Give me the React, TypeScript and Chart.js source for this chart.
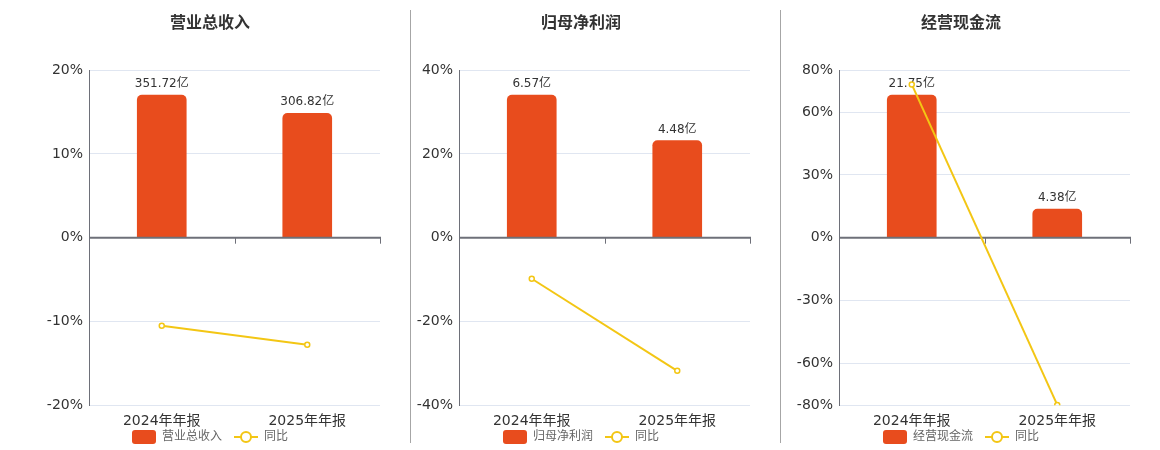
import React, { useEffect, useRef } from "react";
import { Chart, registerables } from "chart.js";

Chart.register(...registerables);

// ---------- data ----------
const CATEGORIES = ["2024年年报", "2025年年报"];
const YOY_LABEL = "同比";
const UNIT = "亿";

const REVENUE_TITLE = "营业总收入";
const REVENUE = [351.72, 306.82];
const REVENUE_YOY = [-10.5, -12.77];
const REVENUE_TICKS = [-20, -10, 0, 10, 20];

const PROFIT_TITLE = "归母净利润";
const PROFIT = [6.57, 4.48];
const PROFIT_YOY = [-9.8, -31.8];
const PROFIT_TICKS = [-40, -20, 0, 20, 40];

const CASH_TITLE = "经营现金流";
const CASH = [21.75, 4.38];
const CASH_YOY = [73.2, -79.86];
const CASH_TICKS = [-80, -60, -30, 0, 30, 60, 80];

// ---------- style ----------
const FONT = "'DejaVu Sans', 'Noto Sans CJK SC', sans-serif";
const BAR_COLOR = "#e84c1d";
const LINE_COLOR = "#f3c614";
const AXIS_COLOR = "#6e7079";
const GRID_COLOR = "#e0e6f1";
const TEXT_COLOR = "#333333";
const LEGEND_TEXT = "#666666";

type PanelProps = {
  title: string;
  bars: number[];
  yoy: number[];
  ticks: number[];
  left: number;
  width: number;
  padL: number;
  padR: number;
  axisW: number;
};

function Panel({ title, bars, yoy, ticks, left, width, padL, padR, axisW }: PanelProps) {
  const ref = useRef<HTMLCanvasElement>(null);

  useEffect(() => {
    const maxBar = Math.max(...bars.map((v) => Math.abs(v)));
    const barMax = maxBar / 0.851;

    const overlay = {
      id: "overlay",
      afterDatasetDraw(chart: any, args: any) {
        if (args.index !== 0) return;
        const { ctx, chartArea: a, scales } = chart;
        const xs = scales.x;
        const ys = scales.y;
        const y0 = ys.getPixelForValue(0);
        ctx.save();
        // zero axis line
        ctx.strokeStyle = AXIS_COLOR;
        ctx.lineWidth = 2;
        ctx.beginPath();
        ctx.moveTo(a.left, y0);
        ctx.lineTo(a.right + 1, y0);
        ctx.stroke();
        // category boundary ticks
        ctx.lineWidth = 1;
        for (let i = 0; i <= CATEGORIES.length; i++) {
          const px = Math.round(xs.getPixelForValue(i - 0.5)) + 0.5;
          ctx.beginPath();
          ctx.moveTo(px, y0);
          ctx.lineTo(px, y0 + 6);
          ctx.stroke();
        }
        // value labels above bars
        const meta = chart.getDatasetMeta(0);
        ctx.font = `12px ${FONT}`;
        ctx.fillStyle = TEXT_COLOR;
        ctx.textAlign = "center";
        ctx.textBaseline = "middle";
        meta.data.forEach((bar: any, i: number) => {
          ctx.fillText(bars[i].toFixed(2) + UNIT, bar.x, bar.y - 11);
        });
        ctx.restore();
      },
      afterDraw(chart: any) {
        const { ctx } = chart;
        ctx.save();
        ctx.font = `12px ${FONT}`;
        const w1 = ctx.measureText(title).width;
        const w2 = ctx.measureText(YOY_LABEL).width;
        const total = 24 + 6 + w1 + 12 + 24 + 6 + w2;
        const center = (padL + chart.width - padR) / 2;
        const cy = chart.height - 13;
        let cx = center - total / 2;
        ctx.fillStyle = BAR_COLOR;
        ctx.beginPath();
        ctx.roundRect(cx, cy - 7, 24, 14, 3);
        ctx.fill();
        cx += 30;
        ctx.fillStyle = LEGEND_TEXT;
        ctx.textAlign = "left";
        ctx.textBaseline = "middle";
        ctx.fillText(title, cx, cy);
        cx += w1 + 12;
        ctx.strokeStyle = LINE_COLOR;
        ctx.lineWidth = 2;
        ctx.beginPath();
        ctx.moveTo(cx, cy);
        ctx.lineTo(cx + 24, cy);
        ctx.stroke();
        ctx.beginPath();
        ctx.arc(cx + 12, cy, 5, 0, Math.PI * 2);
        ctx.fillStyle = "#ffffff";
        ctx.fill();
        ctx.stroke();
        cx += 30;
        ctx.fillStyle = LEGEND_TEXT;
        ctx.fillText(YOY_LABEL, cx, cy);
        ctx.restore();
      },
    };

    const chart = new Chart(ref.current as HTMLCanvasElement, {
      type: "bar",
      data: {
        labels: CATEGORIES,
        datasets: [
          {
            type: "bar",
            label: title,
            data: bars,
            yAxisID: "y1",
            backgroundColor: BAR_COLOR,
            borderRadius: 5,
            barThickness: 49,
            order: 1,
          } as any,
          {
            type: "line",
            label: YOY_LABEL,
            data: yoy,
            yAxisID: "y",
            borderColor: LINE_COLOR,
            borderWidth: 2,
            pointRadius: 2.5,
            pointBorderWidth: 1.5,
            pointBackgroundColor: "#ffffff",
            pointBorderColor: LINE_COLOR,
            tension: 0,
            order: 0,
          } as any,
        ],
      },
      options: {
        responsive: true,
        maintainAspectRatio: false,
        animation: false,
        layout: { padding: { left: padL, right: padR, top: 0, bottom: 12 } },
        plugins: {
          legend: { display: false },
          tooltip: { enabled: false },
          title: {
            display: true,
            text: title,
            color: TEXT_COLOR,
            font: { family: FONT, size: 16, weight: "bold" },
            padding: { top: 14, bottom: 37 },
          },
        },
        scales: {
          x: {
            grid: { display: false, drawTicks: false },
            border: { display: false },
            ticks: {
              color: TEXT_COLOR,
              font: { family: FONT, size: 14 },
              padding: 8,
              maxRotation: 0,
              autoSkip: false,
            },
          },
          y: {
            position: "left",
            min: ticks[0],
            max: ticks[ticks.length - 1],
            afterBuildTicks: (s: any) => {
              s.ticks = ticks.map((v) => ({ value: v }));
            },
            afterFit: (s: any) => {
              s.width = axisW;
            },
            grid: {
              drawTicks: false,
              color: (c: any) => (c.tick && c.tick.value === 0 ? "rgba(0,0,0,0)" : GRID_COLOR),
              lineWidth: 1,
            },
            border: { display: true, color: AXIS_COLOR, width: 1 },
            ticks: {
              color: TEXT_COLOR,
              font: { family: FONT, size: 14 },
              padding: 6,
              callback: (v: any) => `${v}%`,
            },
          },
          y1: {
            display: false,
            min: -barMax,
            max: barMax,
          },
        },
      } as any,
      plugins: [overlay],
    });
    return () => chart.destroy();
  }, []);

  return (
    <div style={{ position: "absolute", left, top: 0, width, height: 450 }}>
      <canvas ref={ref} />
    </div>
  );
}

export default function App() {
  return (
    <div style={{ position: "absolute", left: 0, top: 0, width: 1160, height: 450, background: "#fff" }}>
      <Panel title={REVENUE_TITLE} bars={REVENUE} yoy={REVENUE_YOY} ticks={REVENUE_TICKS}
        left={0} width={410} padL={40} padR={30} axisW={49} />
      <Panel title={PROFIT_TITLE} bars={PROFIT} yoy={PROFIT_YOY} ticks={PROFIT_TICKS}
        left={411} width={369} padL={1} padR={30} axisW={47} />
      <Panel title={CASH_TITLE} bars={CASH} yoy={CASH_YOY} ticks={CASH_TICKS}
        left={781} width={379} padL={11} padR={30} axisW={47} />
      <div style={{ position: "absolute", left: 410, top: 10, width: 1, height: 433, background: "#a6a6a6" }} />
      <div style={{ position: "absolute", left: 780, top: 10, width: 1, height: 433, background: "#a6a6a6" }} />
    </div>
  );
}
